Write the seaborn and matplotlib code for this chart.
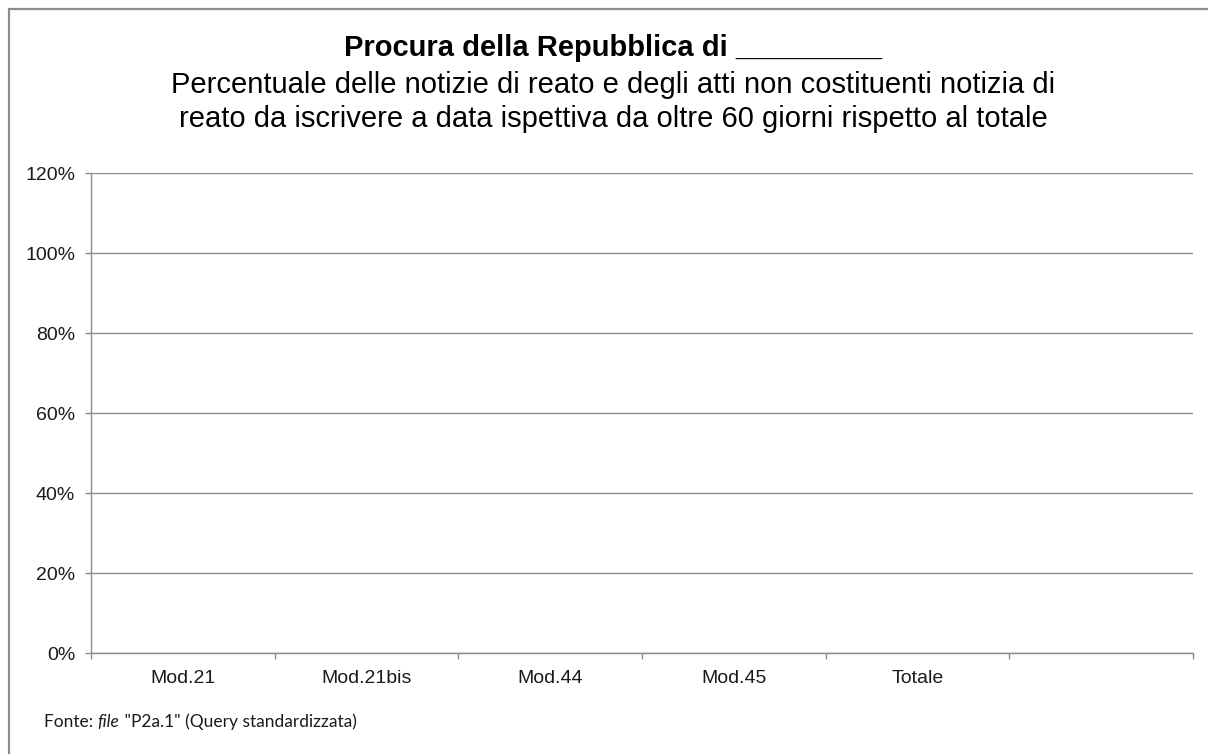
import matplotlib
matplotlib.use("Agg")
import matplotlib.pyplot as plt
import seaborn as sns
import pandas as pd
from matplotlib.ticker import FuncFormatter

# categories (last slot is an empty one in the original sheet) and their values (none filled)
categories = ["Mod.21", "Mod.21bis", "Mod.44", "Mod.45", "Totale", ""]
values = [0.0, 0.0, 0.0, 0.0, 0.0, 0.0]
y_ticks = [0.0, 0.2, 0.4, 0.6, 0.8, 1.0, 1.2]

title = "Procura della Repubblica di _________"
subtitle = ("Percentuale delle notizie di reato e degli atti non costituenti notizia di\n"
            "reato da iscrivere a data ispettiva da oltre 60 giorni rispetto al totale")
source_parts = [("Fonte: ", "normal"), ("file", "italic"), (" \"P2a.1\" (Query standardizzata)", "normal")]

df = pd.DataFrame({"Categoria": categories, "Percentuale": values})

sns.set_style("white")
plt.rcParams["font.family"] = ["Liberation Sans", "DejaVu Sans"]

fig = plt.figure(figsize=(12.08, 7.54), dpi=100)
ax = fig.add_axes([91 / 1208, 101 / 754, 1102 / 1208, 480 / 754])

sns.barplot(data=df, x="Categoria", y="Percentuale", color="#4F81BD", linewidth=0, ax=ax)

ax.set_ylim(0, 1.2)
ax.set_xlim(-0.5, len(categories) - 0.5)
ax.set_yticks(y_ticks)
ax.yaxis.set_major_formatter(FuncFormatter(lambda v, _: f"{v * 100:.0f}%"))
ax.yaxis.grid(True, color="#8c8c8c", linewidth=1.0)
ax.set_axisbelow(True)

# tick marks on the category boundaries, labels in the middle of each slot
ax.set_xticks([i - 0.5 for i in range(len(categories) + 1)])
ax.set_xticklabels([])
ax.set_xticks(range(len(categories)), minor=True)
ax.set_xticklabels(categories, minor=True)
ax.tick_params(axis="x", which="major", bottom=True, length=4.5, width=1, color="#8c8c8c")
ax.tick_params(axis="x", which="minor", bottom=False, length=0, pad=12, labelsize=14, labelcolor="#1a1a1a")
ax.tick_params(axis="y", left=True, length=4.5, width=1, color="#8c8c8c", labelsize=14,
               labelcolor="#1a1a1a", pad=7)

for side in ["top", "right"]:
    ax.spines[side].set_visible(False)
for side in ["left", "bottom"]:
    ax.spines[side].set_color("#8c8c8c")
    ax.spines[side].set_linewidth(1.0)
ax.set_xlabel("")
ax.set_ylabel("")

fig.text(613 / 1208, 1 - 48 / 754, title, ha="center", va="center", fontsize=21, fontweight="bold",
         color="black")
fig.text(613 / 1208, 1 - 102 / 754, subtitle, ha="center", va="center", fontsize=21, color="black",
         linespacing=1.28)

# source note, pieces placed one after the other
renderer = fig.canvas.get_renderer()
x_px = 44
for part, style in source_parts:
    t = fig.text(x_px / 1208, 1 - 722 / 754, part, ha="left", va="center", fontsize=12.5,
                 family="Lato", style=style, color="#1a1a1a")
    x_px = t.get_window_extent(renderer).x1

# outer chart frame (top and left edges visible)
fig.add_artist(plt.Line2D([9 / 1208, 1], [1 - 9 / 754, 1 - 9 / 754], color="#8c8c8c", linewidth=1.6))
fig.add_artist(plt.Line2D([9 / 1208, 9 / 1208], [0, 1 - 9 / 754], color="#8c8c8c", linewidth=1.6))

fig.savefig("out.png", dpi=100)
